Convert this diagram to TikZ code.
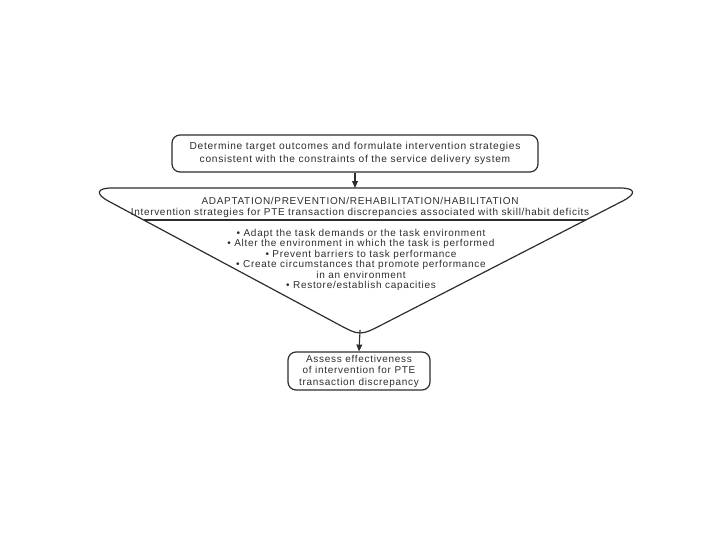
\documentclass[tikz,border=0pt]{standalone}
\usepackage{fontspec}
\setmainfont{Liberation Sans}[LetterSpace=7]
\usetikzlibrary{arrows.meta,positioning,calc}
\definecolor{inkgrey}{RGB}{45,45,45}
\tikzset{
  base/.style={font=\fontsize{10}{11.5}\selectfont, align=center, text=inkgrey, inner sep=2pt},
  box/.style={base, rectangle, rounded corners=8pt, draw=inkgrey, line width=1.2pt},
  arr/.style={-{Triangle[length=2.4mm,width=2mm]}, line width=1.1pt, draw=inkgrey},
  funnel/.style={draw=inkgrey, line width=1.2pt},
}
\begin{document}
\begin{tikzpicture}[x=1pt,y=-1pt]
  \useasboundingbox (0,0) rectangle (720,540);
  % corners of the funnel
  \coordinate (lc) at (84,188);
  \coordinate (rc) at (648,188);
  \coordinate (apex) at (360,336);
  \coordinate (la) at ($(apex)!26pt!(lc)$);
  \coordinate (ra) at ($(apex)!26pt!(rc)$);
  \coordinate (tip) at ($($(la)!0.5!(ra)$)!0.5!(apex)$);
  \node[box,minimum width=366pt,minimum height=37pt,font=\fontsize{10.2}{13}\selectfont] (goal) at (355,153.5) {Determine target outcomes and formulate intervention strategies\\consistent with the constraints of the service delivery system};
  \draw[funnel,rounded corners=28pt] (la) -- (lc) -- (rc) -- (ra);
  \draw[funnel] (ra) .. controls (apex) .. (la);
  \draw[funnel] ($(lc)!0.216!(apex)$) -- ($(rc)!0.216!(apex)$);
  \node[base] (head) at (360,207.5) {ADAPTATION/PREVENTION/REHABILITATION/HABILITATION\\Intervention strategies for PTE transaction discrepancies associated with skill/habit deficits};
  \node[base,font=\fontsize{10}{10.5}\selectfont] (steps) at (361,260) {\textbullet{} Adapt the task demands or the task environment\\\textbullet{} Alter the environment in which the task is performed\\\textbullet{} Prevent barriers to task performance\\\textbullet{} Create circumstances that promote performance\\in an environment\\\textbullet{} Restore/establish capacities};
  \node[box,minimum width=142pt,minimum height=38pt] (assess) at (359,371) {Assess effectiveness\\of intervention for PTE\\transaction discrepancy};
  \draw[arr] (goal.south) -- (goal.south |- lc);
  \draw[arr] (tip) -- (assess.north);
\end{tikzpicture}
\end{document}
